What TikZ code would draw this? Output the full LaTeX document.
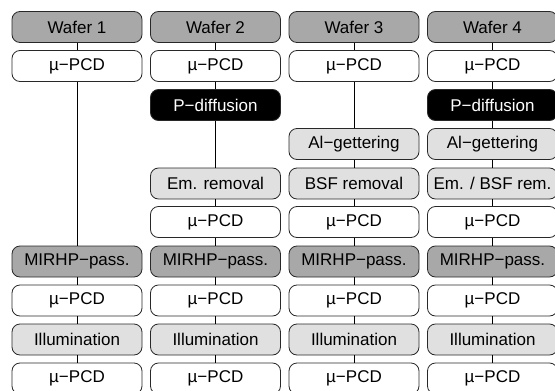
\documentclass[tikz,border=0pt]{standalone}
\usepackage{fontspec}
\setmainfont{Liberation Sans}
\definecolor{dgray}{RGB}{168,168,168}
\definecolor{lgray}{RGB}{224,224,224}
\definecolor{edge}{RGB}{40,40,40}
\begin{document}
\begin{tikzpicture}[x=1pt,y=-1pt,
  box/.style={draw=edge,line width=0.8pt,rounded corners=8pt,minimum width=130pt,minimum height=31pt,inner sep=0pt,font=\fontsize{17}{20}\selectfont,text=black},
  wafer/.style={box,fill=dgray},
  pcd/.style={box,fill=white},
  proc/.style={box,fill=lgray},
  pdiff/.style={box,fill=black,text=white},
  pass/.style={box,fill=dgray},
  conn/.style={draw=black,line width=0.8pt}]
\useasboundingbox (0,0) rectangle (555,391);
\clip (0,0) rectangle (555,391);
% column 1
\node[wafer] (w1) at (77,27) {Wafer 1};
\node[pcd] (a1) at (77,66) {µ−PCD};
\node[pass] (m1) at (77,261.5) {MIRHP−pass.};
\node[pcd] (b1) at (77,300.5) {µ−PCD};
\node[proc] (i1) at (77,339.5) {Illumination};
\node[pcd] (c1) at (77,378.5) {µ−PCD};
% column 2
\node[wafer] (w2) at (215.5,27) {Wafer 2};
\node[pcd] (a2) at (215.5,66) {µ−PCD};
\node[pdiff] (p2) at (215.5,105) {P−diffusion};
\node[proc] (e2) at (215.5,183.5) {Em. removal};
\node[pcd] (d2) at (215.5,222) {µ−PCD};
\node[pass] (m2) at (215.5,261.5) {MIRHP−pass.};
\node[pcd] (b2) at (215.5,300.5) {µ−PCD};
\node[proc] (i2) at (215.5,339.5) {Illumination};
\node[pcd] (c2) at (215.5,378.5) {µ−PCD};
% column 3
\node[wafer] (w3) at (354,27) {Wafer 3};
\node[pcd] (a3) at (354,66) {µ−PCD};
\node[proc] (g3) at (354,144) {Al−gettering};
\node[proc] (e3) at (354,183.5) {BSF removal};
\node[pcd] (d3) at (354,222) {µ−PCD};
\node[pass] (m3) at (354,261.5) {MIRHP−pass.};
\node[pcd] (b3) at (354,300.5) {µ−PCD};
\node[proc] (i3) at (354,339.5) {Illumination};
\node[pcd] (c3) at (354,378.5) {µ−PCD};
% column 4
\node[wafer] (w4) at (492.5,27) {Wafer 4};
\node[pcd] (a4) at (492.5,66) {µ−PCD};
\node[pdiff] (p4) at (492.5,105) {P−diffusion};
\node[proc] (g4) at (492.5,144) {Al−gettering};
\node[proc] (e4) at (492.5,183.5) {Em. / BSF rem.};
\node[pcd] (d4) at (492.5,222) {µ−PCD};
\node[pass] (m4) at (492.5,261.5) {MIRHP−pass.};
\node[pcd] (b4) at (492.5,300.5) {µ−PCD};
\node[proc] (i4) at (492.5,339.5) {Illumination};
\node[pcd] (c4) at (492.5,378.5) {µ−PCD};
% connectors
\draw[conn] (w1) -- (a1); \draw[conn] (a1) -- (m1); \draw[conn] (m1) -- (b1);
\draw[conn] (b1) -- (i1); \draw[conn] (i1) -- (c1);
\draw[conn] (w2) -- (a2); \draw[conn] (a2) -- (p2); \draw[conn] (p2) -- (e2);
\draw[conn] (e2) -- (d2); \draw[conn] (d2) -- (m2); \draw[conn] (m2) -- (b2);
\draw[conn] (b2) -- (i2); \draw[conn] (i2) -- (c2);
\draw[conn] (w3) -- (a3); \draw[conn] (a3) -- (g3); \draw[conn] (g3) -- (e3);
\draw[conn] (e3) -- (d3); \draw[conn] (d3) -- (m3); \draw[conn] (m3) -- (b3);
\draw[conn] (b3) -- (i3); \draw[conn] (i3) -- (c3);
\draw[conn] (w4) -- (a4); \draw[conn] (a4) -- (p4); \draw[conn] (p4) -- (g4);
\draw[conn] (g4) -- (e4); \draw[conn] (e4) -- (d4); \draw[conn] (d4) -- (m4);
\draw[conn] (m4) -- (b4); \draw[conn] (b4) -- (i4); \draw[conn] (i4) -- (c4);
\end{tikzpicture}
\end{document}
